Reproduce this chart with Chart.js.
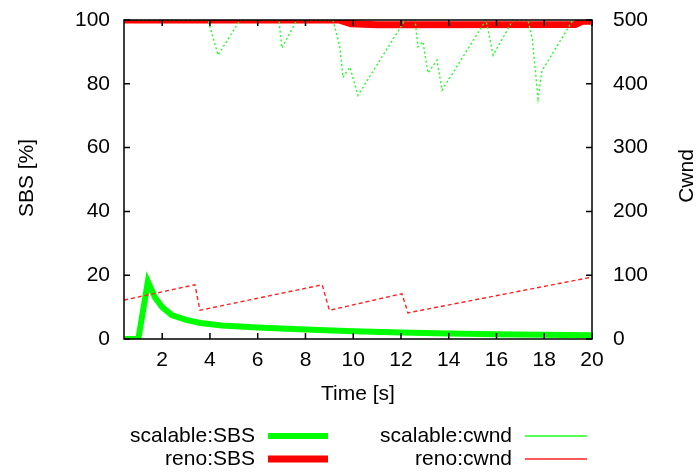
<!DOCTYPE html>
<html>
<head>
<meta charset="utf-8">
<script src="https://cdn.jsdelivr.net/npm/chart.js@4.4.1/dist/chart.umd.min.js"></script>
<style>
  html, body { margin: 0; padding: 0; background: #fff; }
  #wrap { width: 699px; height: 473px; }
</style>
</head>
<body>
<div id="wrap"><canvas id="grafico"></canvas></div>
<script>
// ================================
// DATOS
// ================================
const xTicks = [2, 4, 6, 8, 10, 12, 14, 16, 18, 20];
const yTicks = [0, 20, 40, 60, 80, 100];
const y2Ticks = [0, 100, 200, 300, 400, 500];

// scalable:SBS
const tScalSBS = [0.4, 1.0, 1.4, 1.7, 2.0, 2.4, 3.0, 3.6, 4.5, 6, 8, 10, 12, 14, 16, 18, 20];
const vScalSBS = [0, 0, 18, 13, 10, 7.5, 6, 5, 4.2, 3.6, 3.0, 2.4, 2.0, 1.7, 1.5, 1.3, 1.2];

// reno:SBS
const tRenoSBS = [0.4, 9.4, 9.9, 11.0, 19.3, 19.6, 20];
const vRenoSBS = [100, 100, 98.8, 98.5, 98.6, 99.6, 99.6];

// scalable:cwnd
const tScalCwnd = [0.4, 3.92, 4.34, 5.26, 6.89, 7.01, 7.64, 9.15, 9.44, 9.57, 9.86, 10.2, 12.17,
                   12.59, 12.71, 12.92, 13.13, 13.51, 13.72, 15.56, 15.86, 16.69, 17.32, 17.5, 17.74, 17.9, 19.2, 20];
const vScalCwnd = [500, 500, 445, 500, 500, 456, 500, 500, 458, 410, 426, 382, 500,
                   500, 458, 466, 417, 437, 390, 500, 445, 500, 500, 470, 377, 420, 500, 500];

// reno:cwnd
const tRenoCwnd = [0.4, 3.37, 3.58, 8.7, 9.0, 12.04, 12.29, 20];
const vRenoCwnd = [61, 85, 45, 85, 45, 71, 41, 97];

function puntos(ts, vs) {
    return ts.map((t, i) => ({ x: t, y: vs[i] }));
}

const FUENTE = "'Liberation Sans', Arial, sans-serif";

// ================================
// PLUGIN: marco, ticks hacia dentro, títulos y leyenda
// ================================
const marcoGnuplot = {
    id: "marcoGnuplot",
    afterDatasetsDraw(chart) {
        const ctx = chart.ctx;
        const a = chart.chartArea;
        const sx = chart.scales.x, sy = chart.scales.y, sy2 = chart.scales.y2;
        const largo = 6;

        ctx.save();
        ctx.strokeStyle = "#000";
        ctx.lineWidth = 1.5;

        // ticks hacia dentro
        ctx.beginPath();
        xTicks.forEach(v => {
            const px = sx.getPixelForValue(v);
            ctx.moveTo(px, a.bottom); ctx.lineTo(px, a.bottom - largo);
            ctx.moveTo(px, a.top); ctx.lineTo(px, a.top + largo);
        });
        yTicks.forEach(v => {
            const py = sy.getPixelForValue(v);
            ctx.moveTo(a.left, py); ctx.lineTo(a.left + largo, py);
        });
        y2Ticks.forEach(v => {
            const py = sy2.getPixelForValue(v);
            ctx.moveTo(a.right, py); ctx.lineTo(a.right - largo, py);
        });
        ctx.stroke();

        // marco
        ctx.strokeRect(a.left, a.top, a.right - a.left, a.bottom - a.top);

        // títulos de ejes
        ctx.fillStyle = "#000";
        ctx.font = "21px " + FUENTE;
        ctx.textAlign = "center";
        ctx.textBaseline = "middle";
        ctx.fillText("Time [s]", (a.left + a.right) / 2, 394);

        ctx.save();
        ctx.translate(27, 178);
        ctx.rotate(-Math.PI / 2);
        ctx.fillText("SBS [%]", 0, 0);
        ctx.restore();

        ctx.save();
        ctx.translate(687, 176);
        ctx.rotate(-Math.PI / 2);
        ctx.fillText("Cwnd", 0, 0);
        ctx.restore();

        // leyenda (texto a la derecha, muestra de línea después)
        const columnas = [
            { finTexto: 255, x0: 268, x1: 328 },
            { finTexto: 512, x0: 525, x1: 587 }
        ];
        const filas = [436, 459];
        chart.data.datasets.forEach((ds, i) => {
            const col = columnas[Math.floor(i / 2)];
            const y = filas[i % 2];
            ctx.textAlign = "right";
            ctx.fillText(ds.label, col.finTexto, y);
            ctx.beginPath();
            ctx.strokeStyle = ds.borderColor;
            ctx.lineWidth = ds.borderWidth;
            ctx.setLineDash([]);
            ctx.moveTo(col.x0, y);
            ctx.lineTo(col.x1, y);
            ctx.stroke();
        });

        ctx.restore();
    }
};

// ================================
// GRÁFICO
// ================================
Chart.defaults.font.family = FUENTE;
Chart.defaults.font.size = 21;
Chart.defaults.color = "#000";

new Chart(document.getElementById("grafico"), {
    type: "line",
    data: {
        datasets: [
            {
                label: "scalable:SBS",
                data: puntos(tScalSBS, vScalSBS),
                borderColor: "#00ff00",
                borderWidth: 6,
                yAxisID: "y",
                order: 4
            },
            {
                label: "reno:SBS",
                data: puntos(tRenoSBS, vRenoSBS),
                borderColor: "#ff0000",
                borderWidth: 7,
                yAxisID: "y",
                order: 3
            },
            {
                label: "scalable:cwnd",
                data: puntos(tScalCwnd, vScalCwnd),
                borderColor: "#22ff22",
                borderWidth: 1.4,
                borderDash: [2, 2.5],
                yAxisID: "y2",
                order: 2
            },
            {
                label: "reno:cwnd",
                data: puntos(tRenoCwnd, vRenoCwnd),
                borderColor: "#ff2222",
                borderWidth: 1.4,
                borderDash: [4, 3],
                yAxisID: "y2",
                order: 1
            }
        ]
    },
    options: {
        responsive: true,
        maintainAspectRatio: false,
        animation: false,
        layout: { padding: { left: 0, right: 0, top: 20, bottom: 64 } },
        elements: {
            point: { radius: 0 },
            line: { tension: 0, fill: false }
        },
        plugins: {
            legend: { display: false },
            tooltip: { enabled: false }
        },
        scales: {
            x: {
                type: "linear",
                min: 0.4,
                max: 20,
                grid: { display: false, tickLength: 9 },
                border: { display: false },
                ticks: { padding: 0, maxRotation: 0, minRotation: 0 },
                afterBuildTicks: s => { s.ticks = xTicks.map(v => ({ value: v })); },
                afterFit: s => { s.height = 70; }
            },
            y: {
                position: "left",
                min: 0,
                max: 100,
                grid: { display: false, tickLength: 14 },
                border: { display: false },
                ticks: { padding: 0 },
                afterBuildTicks: s => { s.ticks = yTicks.map(v => ({ value: v })); },
                afterFit: s => { s.width = 124; }
            },
            y2: {
                position: "right",
                min: 0,
                max: 500,
                grid: { display: false, tickLength: 21 },
                border: { display: false },
                ticks: { padding: 0 },
                afterBuildTicks: s => { s.ticks = y2Ticks.map(v => ({ value: v })); },
                afterFit: s => { s.width = 107; }
            }
        }
    },
    plugins: [marcoGnuplot]
});
</script>
</body>
</html>
